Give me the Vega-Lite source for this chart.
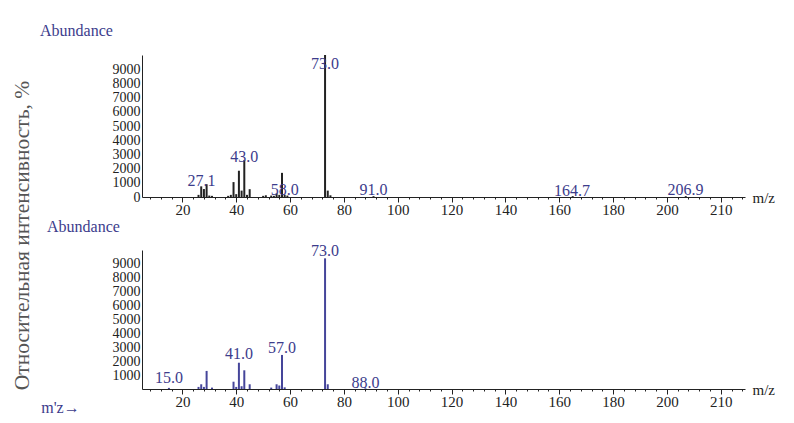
{
  "$schema": "https://vega.github.io/schema/vega-lite/v6.json",
  "background": "white",
  "padding": {"left": 10, "top": 23, "right": 5, "bottom": 5},
  "bounds": "flush",
  "spacing": 53,
  "config": {
    "view": {"stroke": null},
    "axis": {"grid": false, "labelFont": "Liberation Serif", "titleFont": "Liberation Serif", "labelColor": "#222", "domainColor": "#222", "tickColor": "#222", "titleFontWeight": "normal"}
  },
  "datasets": {
    "topPeaks": [
      {"mz": 26, "abundance": 150}, {"mz": 27, "abundance": 750}, {"mz": 28, "abundance": 560}, {"mz": 29, "abundance": 900},
      {"mz": 30, "abundance": 100}, {"mz": 31, "abundance": 80}, {"mz": 37, "abundance": 80}, {"mz": 38, "abundance": 150},
      {"mz": 39, "abundance": 1050}, {"mz": 40, "abundance": 200}, {"mz": 41, "abundance": 1850}, {"mz": 42, "abundance": 450},
      {"mz": 43, "abundance": 2600}, {"mz": 44, "abundance": 150}, {"mz": 45, "abundance": 550}, {"mz": 50, "abundance": 80},
      {"mz": 51, "abundance": 120}, {"mz": 53, "abundance": 100}, {"mz": 54, "abundance": 80}, {"mz": 55, "abundance": 250},
      {"mz": 56, "abundance": 150}, {"mz": 57, "abundance": 1700}, {"mz": 58, "abundance": 150}, {"mz": 59, "abundance": 100},
      {"mz": 73, "abundance": 10000}, {"mz": 74, "abundance": 450}, {"mz": 75, "abundance": 120}, {"mz": 91, "abundance": 60},
      {"mz": 165, "abundance": 60}, {"mz": 207, "abundance": 60}
    ],
    "topLabels": [
      {"mz": 27.1, "abundance": 1130, "label": "27.1"},
      {"mz": 43.0, "abundance": 2820, "label": "43.0"},
      {"mz": 58.0, "abundance": 500, "label": "58.0"},
      {"mz": 73.0, "abundance": 9370, "label": "73.0"},
      {"mz": 91.0, "abundance": 500, "label": "91.0"},
      {"mz": 164.7, "abundance": 430, "label": "164.7"},
      {"mz": 206.9, "abundance": 500, "label": "206.9"}
    ],
    "botPeaks": [
      {"mz": 15, "abundance": 80}, {"mz": 26, "abundance": 150}, {"mz": 27, "abundance": 340}, {"mz": 28, "abundance": 150},
      {"mz": 29, "abundance": 1300}, {"mz": 31, "abundance": 100}, {"mz": 39, "abundance": 525}, {"mz": 40, "abundance": 150},
      {"mz": 41, "abundance": 1890}, {"mz": 42, "abundance": 200}, {"mz": 43, "abundance": 1345}, {"mz": 45, "abundance": 340},
      {"mz": 53, "abundance": 100}, {"mz": 55, "abundance": 340}, {"mz": 56, "abundance": 250}, {"mz": 57, "abundance": 2450},
      {"mz": 58, "abundance": 120}, {"mz": 73, "abundance": 9400}, {"mz": 74, "abundance": 340}, {"mz": 88, "abundance": 50}
    ],
    "botLabels": [
      {"mz": 15.0, "abundance": 810, "label": "15.0"},
      {"mz": 41.0, "abundance": 2520, "label": "41.0"},
      {"mz": 57.0, "abundance": 2970, "label": "57.0"},
      {"mz": 73.0, "abundance": 9930, "label": "73.0"},
      {"mz": 88.0, "abundance": 450, "label": "88.0"}
    ]
  },
  "vconcat": [
    {
      "width": 603,
      "height": 142,
      "title": {"text": "Abundance", "anchor": "start", "frame": "group", "dx": -102, "offset": 15, "font": "Liberation Serif", "fontSize": 16, "fontWeight": "normal", "color": "#3c3c8c"},
      "encoding": {
        "x": {"field": "mz", "type": "quantitative",
          "scale": {"domain": [5, 229], "nice": false, "zero": false},
          "axis": {"title": "m/z", "titleX": 610, "titleY": 0, "titleAlign": "left", "titleBaseline": "middle", "titleFontSize": 15, "titleColor": "#222",
            "values": [8,12,16,20,24,28,32,36,40,44,48,52,56,60,64,68,72,76,80,84,88,92,96,100,104,108,112,116,120,124,128,132,136,140,144,148,152,156,160,164,168,172,176,180,184,188,192,196,200,204,208,212,216,220,224,228],
            "labelExpr": "datum.value % 20 == 0 ? (datum.value == 220 ? '210' : datum.label) : ''",
            "tickSize": {"condition": {"test": "datum.value % 20 == 0", "value": 5}, "value": 2},
            "labelFontSize": 15, "labelPadding": 0, "labelOverlap": false, "labelFlush": false}},
        "y": {"field": "abundance", "type": "quantitative",
          "scale": {"domain": [0, 10000], "nice": false},
          "axis": {"title": "Относительная интенсивность, %", "titleX": -109, "titleY": 180, "titleAngle": -90, "titleAlign": "center", "titleBaseline": "bottom", "titleFontSize": 21.5, "titleColor": "#555",
            "values": [0,1000,2000,3000,4000,5000,6000,7000,8000,9000], "format": "d", "ticks": false, "labelPadding": 2, "labelFontSize": 14, "labelOverlap": false}}
      },
      "layer": [
        {"data": {"name": "topPeaks"}, "mark": {"type": "rule", "color": "#222", "strokeWidth": 2}, "encoding": {"y2": {"datum": 0}}},
        {"data": {"name": "topLabels"}, "mark": {"type": "text", "font": "Liberation Serif", "fontSize": 16, "color": "#3c3c8c", "baseline": "middle"}, "encoding": {"text": {"field": "label", "type": "nominal"}}}
      ]
    },
    {
      "width": 603,
      "height": 139,
      "title": {"text": "Abundance", "anchor": "start", "frame": "group", "dx": -95, "offset": 8, "font": "Liberation Serif", "fontSize": 16, "fontWeight": "normal", "color": "#3c3c8c"},
      "encoding": {
        "x": {"field": "mz", "type": "quantitative",
          "scale": {"domain": [5, 229], "nice": false, "zero": false},
          "axis": {"title": "m/z", "titleX": 610, "titleY": 0, "titleAlign": "left", "titleBaseline": "middle", "titleFontSize": 15, "titleColor": "#222",
            "values": [8,12,16,20,24,28,32,36,40,44,48,52,56,60,64,68,72,76,80,84,88,92,96,100,104,108,112,116,120,124,128,132,136,140,144,148,152,156,160,164,168,172,176,180,184,188,192,196,200,204,208,212,216,220,224,228],
            "labelExpr": "datum.value % 20 == 0 ? (datum.value == 220 ? '210' : datum.label) : ''",
            "tickSize": {"condition": {"test": "datum.value % 20 == 0", "value": 5}, "value": 2},
            "labelFontSize": 15, "labelPadding": 0, "labelOverlap": false, "labelFlush": false}},
        "y": {"field": "abundance", "type": "quantitative",
          "scale": {"domain": [0, 10000], "nice": false},
          "axis": {"title": "m'z→", "titleX": -82, "titleY": 157, "titleAngle": 0, "titleAlign": "center", "titleBaseline": "middle", "titleFontSize": 16, "titleColor": "#3c3c8c",
            "values": [1000,2000,3000,4000,5000,6000,7000,8000,9000], "format": "d", "ticks": false, "labelPadding": 2, "labelFontSize": 14, "labelOverlap": false}}
      },
      "layer": [
        {"data": {"name": "botPeaks"}, "mark": {"type": "rule", "color": "#45459a", "strokeWidth": 2}, "encoding": {"y2": {"datum": 0}}},
        {"data": {"name": "botLabels"}, "mark": {"type": "text", "font": "Liberation Serif", "fontSize": 16, "color": "#3c3c8c", "baseline": "middle"}, "encoding": {"text": {"field": "label", "type": "nominal"}}}
      ]
    }
  ]
}
